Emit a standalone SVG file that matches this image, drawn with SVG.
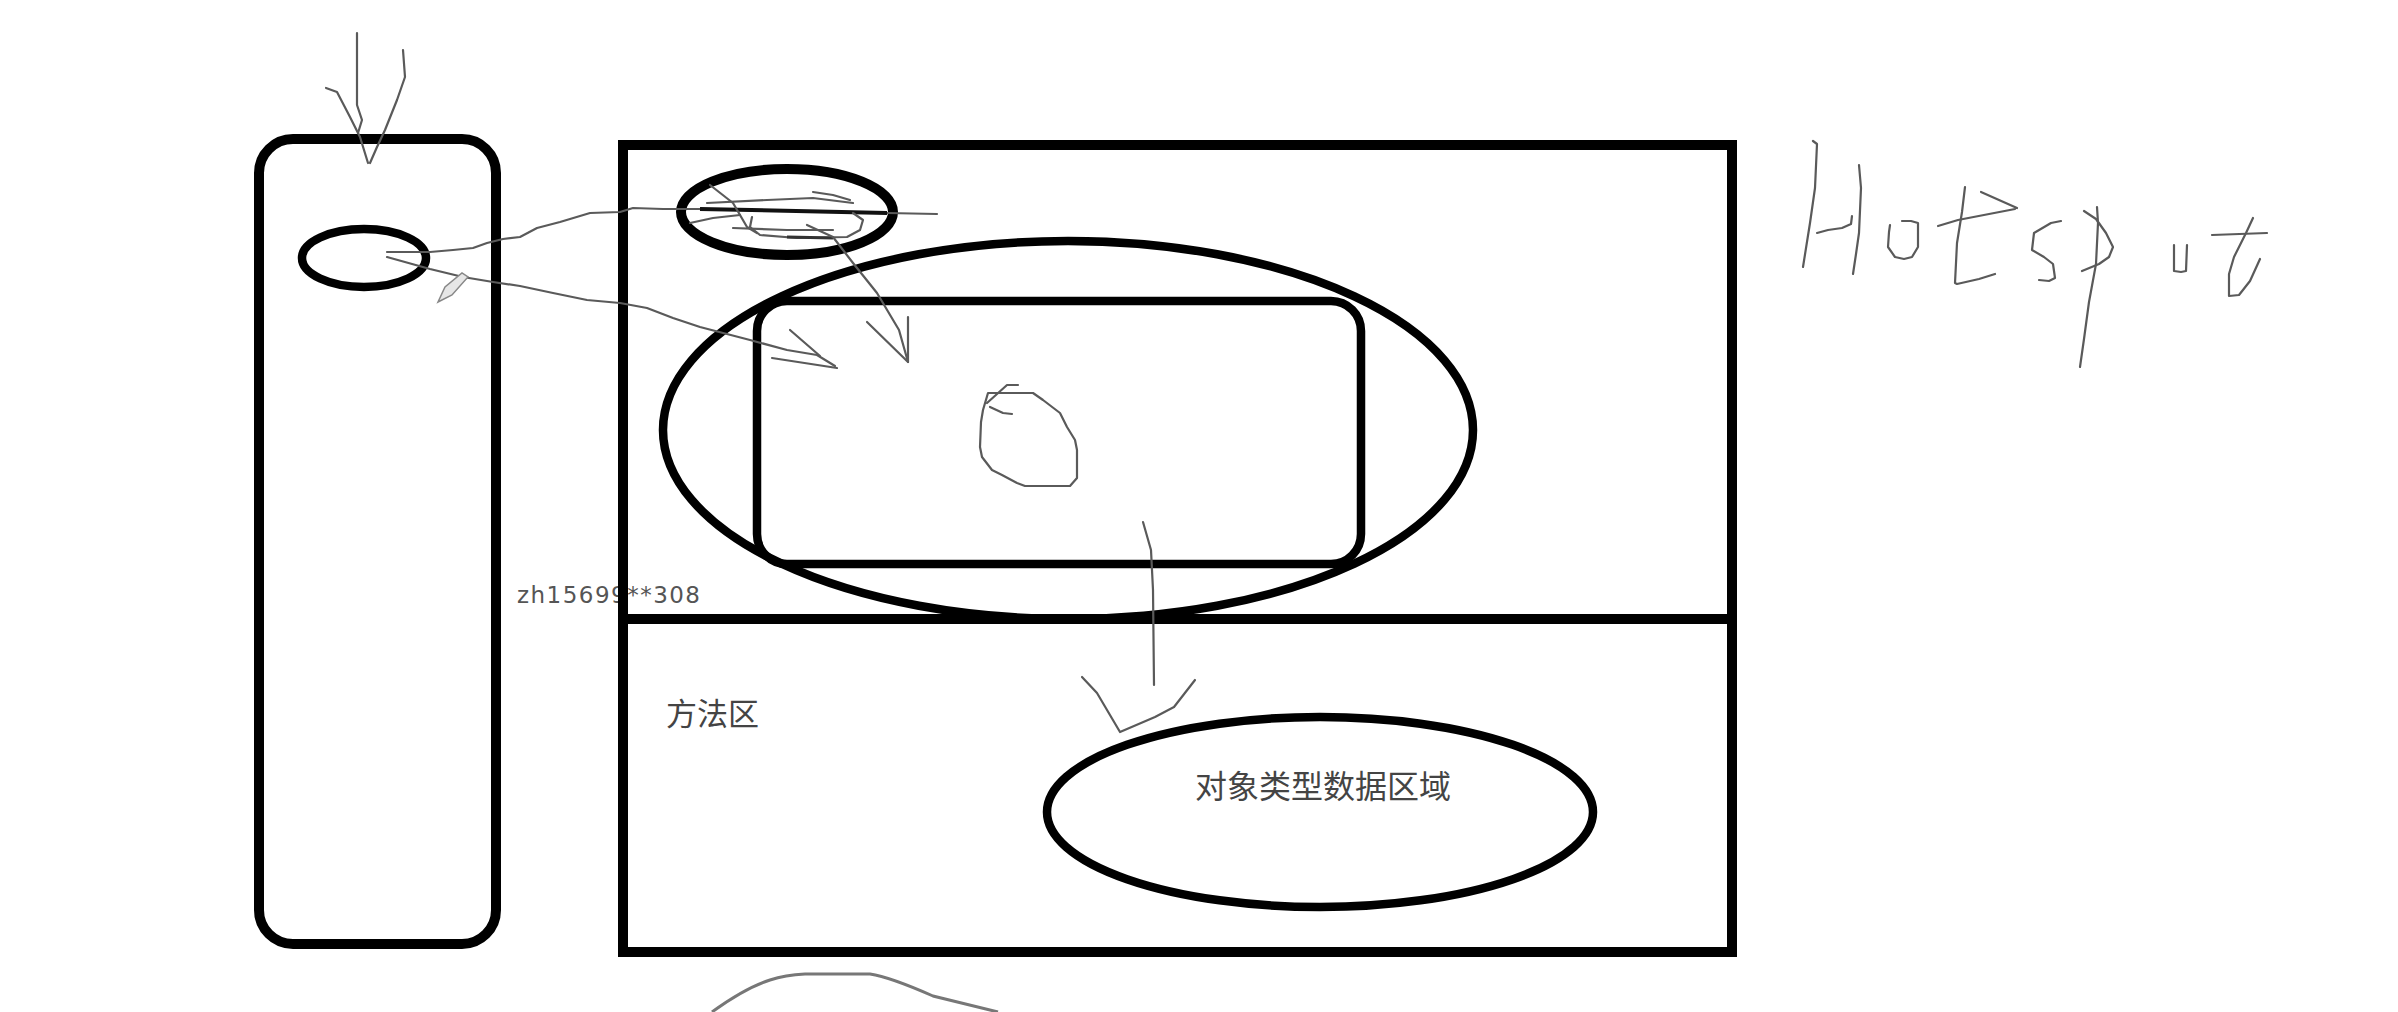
<svg xmlns="http://www.w3.org/2000/svg" width="2398" height="1012" viewBox="0 0 2398 1012">
<style>
.bold{fill:none;stroke:#000;stroke-width:10}
.mid{fill:none;stroke:#000;stroke-width:8.5}
.pen{fill:none;stroke:#5a5a5a;stroke-width:2.2;stroke-linecap:round;stroke-linejoin:round}
.cjk{font-family:"Noto Sans CJK SC","Noto Sans",sans-serif;fill:#444}
.wm{font-family:"DejaVu Sans","Liberation Sans",sans-serif;fill:#555}
</style>
<rect width="2398" height="1012" fill="#fff"/>

<g id="watermark">
<text class="wm" x="517" y="603" font-size="23" textLength="183" lengthAdjust="spacing">zh15699**308</text>
</g>

<g id="stack-frame">
<rect class="bold" x="259" y="139" width="237" height="805" rx="34" ry="34"/>
</g>
<g id="stack-ellipse">
<ellipse class="mid" cx="364" cy="258" rx="62" ry="29"/>
</g>

<g id="heap-frame">
<rect class="bold" x="623" y="145" width="1109" height="807"/>
<line class="bold" x1="623" y1="619" x2="1732" y2="619"/>
</g>

<g id="top-ellipse">
<ellipse class="bold" cx="787" cy="212" rx="106" ry="43"/>
</g>

<g id="big-ellipse">
<ellipse class="mid" cx="1068" cy="430" rx="405" ry="189"/>
</g>

<g id="inner-rect">
<rect class="mid" x="757" y="301" width="604" height="263" rx="30" ry="30"/>
</g>

<g id="method-area">
<text class="cjk" x="666" y="725" font-size="31">方法区</text>
</g>

<g id="object-data-area">
<ellipse class="mid" cx="1320" cy="812" rx="273" ry="95"/>
<text class="cjk" x="1195" y="798" font-size="32">对象类型数据区域</text>
</g>

<g id="small-circle">
<path class="pen" d="M988,393 L1033,393 L1043,400 L1060,413 L1067,427 L1075,440 L1077,450 L1077,478 L1070,486 L1025,486 L1017,483 L1002,475 L992,470 L982,457 L980,447 L981,422 L983,410 Z"/>
<path class="pen" d="M987,403 L1007,385 L1018,385 M990,407 L1003,413 L1012,414"/>
</g>

<g id="bottom-arc">
<path d="M712,1012 Q745,988 770,980 Q785,975 805,974 L870,974 Q890,977 933,996 L998,1012" fill="none" stroke="#777" stroke-width="3"/>
</g>

<g id="hotspot-text">
<path class="pen" d="M1813,141 L1817,144 L1815,188 L1810,223 L1803,267"/>
<path class="pen" d="M1859,165 L1861,188 L1859,233 L1856,254 L1853,274"/>
<path class="pen" d="M1817,233 L1828,230 L1842,228 L1851,224 L1852,216"/>
<path class="pen" d="M1890,225 L1889,232 L1888,247 L1895,257 L1904,259 L1912,257 L1918,247 L1918,223 L1911,221 L1902,221"/>
<path class="pen" d="M1965,187 L1962,212 L1957,243 L1955,283 L1957,284 L1979,279 L1995,274"/>
<path class="pen" d="M1938,226 L1958,220 L2015,209 M1981,192 L2017,208"/>
<path class="pen" d="M2061,221 L2051,223 L2034,233 L2032,250 L2044,257 L2053,264 L2055,278 L2049,281 L2039,280"/>
<path class="pen" d="M2097,207 L2098,223 L2096,264 L2089,302 L2084,339 L2080,367"/>
<path class="pen" d="M2084,211 L2096,219 L2106,233 L2113,247 L2109,257 L2099,264 L2082,271"/>
<path class="pen" d="M2174,245 L2174,271 L2181,272 L2186,271 L2187,245"/>
<path class="pen" d="M2212,235 L2267,233"/>
<path class="pen" d="M2253,218 L2246,233 L2234,257 L2229,274 L2229,296 L2239,295 L2250,281 L2260,259"/>
</g>

<g id="connectors">
<path class="pen" d="M357,33 L357,105 L362,120 L358,133"/>
<path class="pen" d="M326,88 L337,92 L350,117 L360,137 L368,163"/>
<path class="pen" d="M403,50 L405,77 L397,100 L385,130 L377,147 L370,163"/>
<path class="pen" d="M387,252 L430,252 L453,250 L473,248 L487,243 L503,239 L520,237 L537,228 L560,222 L590,213 L620,212 L633,208 L663,209 L707,209 L800,211 L887,213 L937,214"/>
<line x1="700" y1="209" x2="887" y2="213" stroke="#111" stroke-width="4"/>
<path class="pen" d="M707,203 L767,200 L813,198 L853,203"/>
<path class="pen" d="M733,228 L787,230 L833,230"/>
<path class="pen" d="M752,217 L750,227 L760,235 L797,238 L847,237 L860,230 L863,220 L853,213"/>
<path class="pen" d="M710,185 L733,203 L747,227 L757,233"/>
<path class="pen" d="M690,223 L713,218 L740,215"/>
<path class="pen" d="M813,192 L833,195 L850,200"/>
<line x1="787" y1="237" x2="833" y2="238" stroke="#333" stroke-width="3"/>
<path class="pen" d="M807,225 L833,237 L853,263 L877,293 L899,330 L908,362"/>
<path class="pen" d="M867,322 L908,362 L908,317"/>
<path class="pen" d="M387,257 L430,269 L463,277 L493,282 L520,286 L553,293 L587,300 L620,303 L647,308 L673,318 L700,327 L750,340 L787,350 L817,355 L835,366"/>
<path class="pen" d="M790,330 L820,356 M772,358 L837,368"/>
<path d="M438,302 L445,287 L462,273 L468,277 L452,295 Z" fill="#e6e6e6" stroke="#888" stroke-width="1.5"/>
<path class="pen" d="M1143,522 L1151,550 L1153,590 L1154,685"/>
<path class="pen" d="M1082,677 L1097,693 L1120,732 L1155,717 L1174,707 L1195,680"/>
</g>
</svg>
